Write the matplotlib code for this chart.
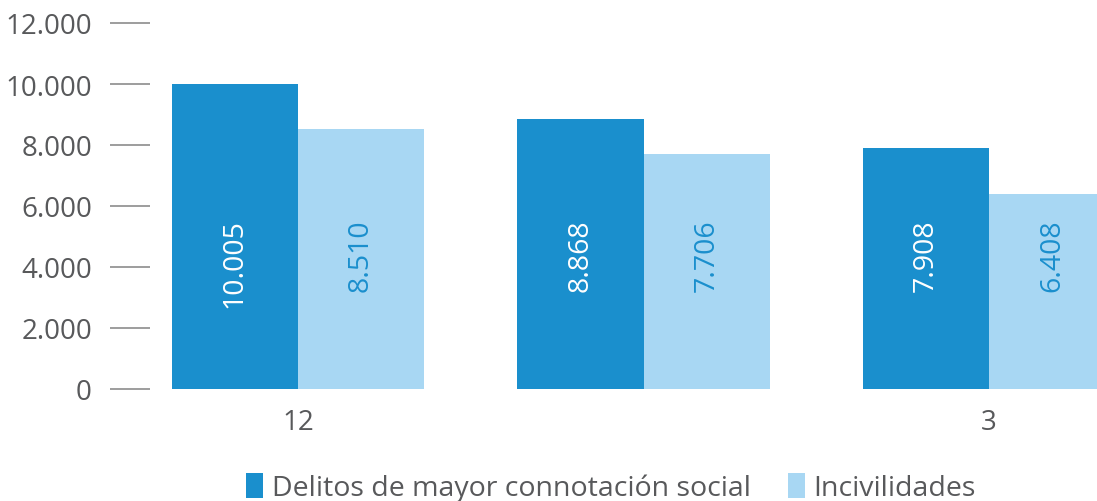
import matplotlib
matplotlib.use("Agg")
import matplotlib.pyplot as plt
from matplotlib.patches import Patch
from matplotlib.ticker import FuncFormatter
import numpy as np

categories = ["12", "", "3"]
delitos = [10005, 8868, 7908]
incivilidades = [8510, 7706, 6408]
series_names = ["Delitos de mayor connotación social", "Incivilidades"]
yticks = [0, 2000, 4000, 6000, 8000, 10000, 12000]

dark = "#1A8FCD"
light = "#A8D7F3"
gray = "#58595B"

plt.rcParams['font.family'] = ['Open Sans', 'DejaVu Sans']

W, H = 1097, 502
fig = plt.figure(figsize=(W / 100, H / 100), dpi=100)
left_px, right_px, top_px, bottom_px = 150, 1097, 24, 390
ax = fig.add_axes([left_px / W, 1 - bottom_px / H, (right_px - left_px) / W, (bottom_px - top_px) / H])

x = np.arange(len(categories))
bw = 0.365
ax.bar(x - bw / 2, delitos, width=bw, color=dark, linewidth=0)
ax.bar(x + bw / 2, incivilidades, width=bw, color=light, linewidth=0)

label_top = 5600
for i in range(len(categories)):
    ax.text(x[i] - bw / 2, label_top, f"{delitos[i]:,}".replace(",", "."), rotation=90,
            ha="center", va="top", color="white", fontsize=20.5)
    ax.text(x[i] + bw / 2, label_top, f"{incivilidades[i]:,}".replace(",", "."), rotation=90,
            ha="center", va="top", color=dark, fontsize=20.5)

px_per_unit = 345.5
ax.set_xlim(-(298 - left_px) / px_per_unit, 2 + (right_px - 989) / px_per_unit)
ax.set_ylim(0, 12000)
ax.set_yticks(yticks)
ax.yaxis.set_major_formatter(FuncFormatter(lambda v, p: f"{int(v):,}".replace(",", ".")))
ax.set_xticks(x)
ax.set_xticklabels(categories)

for s in ax.spines.values():
    s.set_visible(False)
ax.tick_params(axis="y", length=28.8, width=1.2, color="#8C8C8C", pad=13,
               labelsize=20, labelcolor=gray, direction="out")
ax.tick_params(axis="x", length=0, pad=14, labelsize=20, labelcolor=gray)

handles = [Patch(facecolor=dark, edgecolor="none"), Patch(facecolor=light, edgecolor="none")]
fig.legend(handles, series_names, loc="lower center", bbox_to_anchor=(0.557, -0.025), ncol=2,
           frameon=False, fontsize=20.5, labelcolor=gray, handlelength=0.6, handleheight=0.95,
           handletextpad=0.3, columnspacing=1.3, borderaxespad=0)

fig.savefig("out.png", dpi=100)
